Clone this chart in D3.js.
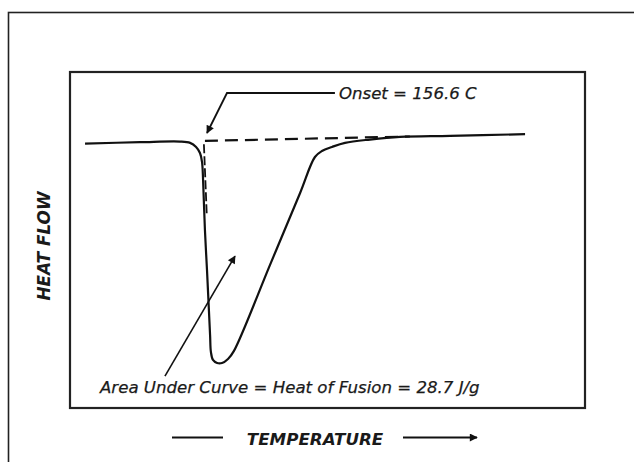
<!DOCTYPE html>
<html>
<head>
<meta charset="utf-8">
<script src="https://cdn.jsdelivr.net/npm/d3@7/dist/d3.min.js"></script>
<style>
  html, body { margin: 0; padding: 0; background: #fff; }
  svg { display: block; }
  text { font-family: "DejaVu Sans", Verdana, sans-serif; fill: #1a1a1a; }
</style>
</head>
<body>
<svg id="chart" width="634" height="462"></svg>
<script>
// ---- data (temperature in °C, heat flow in relative units, 0..100 = plot bottom..top) ----
const curveTemp = [150.73, 153.40, 155.34, 155.83, 156.12, 156.31, 156.41, 156.46, 156.55, 156.65, 156.80, 156.84, 156.94, 157.14, 157.38, 157.67, 157.96, 159.71, 161.17, 161.89, 162.23, 162.72, 163.35, 164.56, 166.02, 168.45, 172.09];
const curveFlow = [78.7, 79.1, 79.3, 78.9, 77.7, 75.9, 73.2, 67.9, 53.0, 41.1, 21.7, 16.7, 14.3, 13.4, 13.4, 14.6, 17.0, 42.6, 64.0, 74.7, 76.5, 77.7, 78.9, 79.9, 80.7, 81.0, 81.5];

const baselineTemp = [156.55, 166.5];
const baselineFlow = [79.5, 80.8];

const tangentTemp = [156.50, 156.64];
const tangentFlow = [78.5, 57.4];

const onsetLabel = "Onset = 156.6 C";
const areaLabel = "Area Under Curve = Heat of Fusion = 28.7 J/g";
const xTitle = "TEMPERATURE";
const yTitle = "HEAT FLOW";

// annotation anchor points (in data units)
const onsetLeaderTemp = [162.86, 157.62, 156.65];
const onsetLeaderFlow = [93.75, 93.75, 81.85];
const areaArrowTemp = [154.61, 158.01];
const areaArrowFlow = [9.5, 45.2];

// ---- layout ----
const svg = d3.select("#chart");
const box = { left: 70, top: 72, right: 585, bottom: 408 };

const x = d3.scaleLinear().domain([150, 175]).range([box.left, box.right]);
const y = d3.scaleLinear().domain([0, 100]).range([box.bottom, box.top]);

const zip = (a, b) => a.map((v, i) => [v, b[i]]);

// arrow marker
const defs = svg.append("defs");
defs.append("marker")
  .attr("id", "arrow")
  .attr("viewBox", "0 0 10 10")
  .attr("refX", 9).attr("refY", 5)
  .attr("markerWidth", 12).attr("markerHeight", 8)
  .attr("markerUnits", "userSpaceOnUse")
  .attr("orient", "auto")
  .append("path").attr("d", "M0,0 L10,5 L0,10 Z").attr("fill", "#111");

// outer frame
svg.append("rect")
  .attr("x", 8.5).attr("y", 12.5).attr("width", 700).attr("height", 500)
  .attr("fill", "none").attr("stroke", "#222").attr("stroke-width", 1.6);

// plot box
svg.append("rect")
  .attr("x", box.left).attr("y", box.top)
  .attr("width", box.right - box.left).attr("height", box.bottom - box.top)
  .attr("fill", "#fff").attr("stroke", "#222").attr("stroke-width", 2.2);

const line = d3.line().x(d => x(d[0])).y(d => y(d[1]));

// dashed baseline extrapolation
svg.append("path")
  .attr("d", line(zip(baselineTemp, baselineFlow)))
  .attr("fill", "none").attr("stroke", "#111").attr("stroke-width", 2.2)
  .attr("stroke-dasharray", "13,7");

// dashed tangent of leading edge
svg.append("path")
  .attr("d", line(zip(tangentTemp, tangentFlow)))
  .attr("fill", "none").attr("stroke", "#111").attr("stroke-width", 1.8)
  .attr("stroke-dasharray", "9,3");

// DSC curve
svg.append("path")
  .attr("d", d3.line().x(d => x(d[0])).y(d => y(d[1])).curve(d3.curveCatmullRom.alpha(0.5))(zip(curveTemp, curveFlow)))
  .attr("fill", "none").attr("stroke", "#111").attr("stroke-width", 2.2)
  .attr("stroke-linejoin", "round");

// onset leader
svg.append("path")
  .attr("d", line(zip(onsetLeaderTemp, onsetLeaderFlow)))
  .attr("fill", "none").attr("stroke", "#111").attr("stroke-width", 1.8)
  .attr("marker-end", "url(#arrow)");

const labelStyle = sel => sel
  .attr("font-size", 16.6).attr("font-style", "italic")
  .attr("stroke", "#1a1a1a").attr("stroke-width", 0.25);

svg.append("text")
  .attr("x", x(onsetLeaderTemp[0]) + 4).attr("y", y(onsetLeaderFlow[0]) + 6)
  .call(labelStyle)
  .text(onsetLabel);

// area arrow
svg.append("path")
  .attr("d", line(zip(areaArrowTemp, areaArrowFlow)))
  .attr("fill", "none").attr("stroke", "#111").attr("stroke-width", 1.6)
  .attr("marker-end", "url(#arrow)");

svg.append("text")
  .attr("x", 100).attr("y", 393)
  .call(labelStyle)
  .text(areaLabel);

// x title with arrow
svg.append("text")
  .attr("x", 315).attr("y", 444.5)
  .attr("text-anchor", "middle")
  .attr("font-size", 16.7).attr("font-weight", "bold").attr("font-style", "italic")
  .text(xTitle);
svg.append("line")
  .attr("x1", 172).attr("x2", 223).attr("y1", 437.5).attr("y2", 437.5)
  .attr("stroke", "#111").attr("stroke-width", 1.8);
svg.append("line")
  .attr("x1", 403).attr("x2", 477).attr("y1", 437.5).attr("y2", 437.5)
  .attr("stroke", "#111").attr("stroke-width", 1.8)
  .attr("marker-end", "url(#arrow)");

// y title
svg.append("text")
  .attr("transform", "translate(50,246) rotate(-90)")
  .attr("text-anchor", "middle")
  .attr("font-size", 16.9).attr("font-weight", "bold").attr("font-style", "italic")
  .text(yTitle);
</script>
</body>
</html>
